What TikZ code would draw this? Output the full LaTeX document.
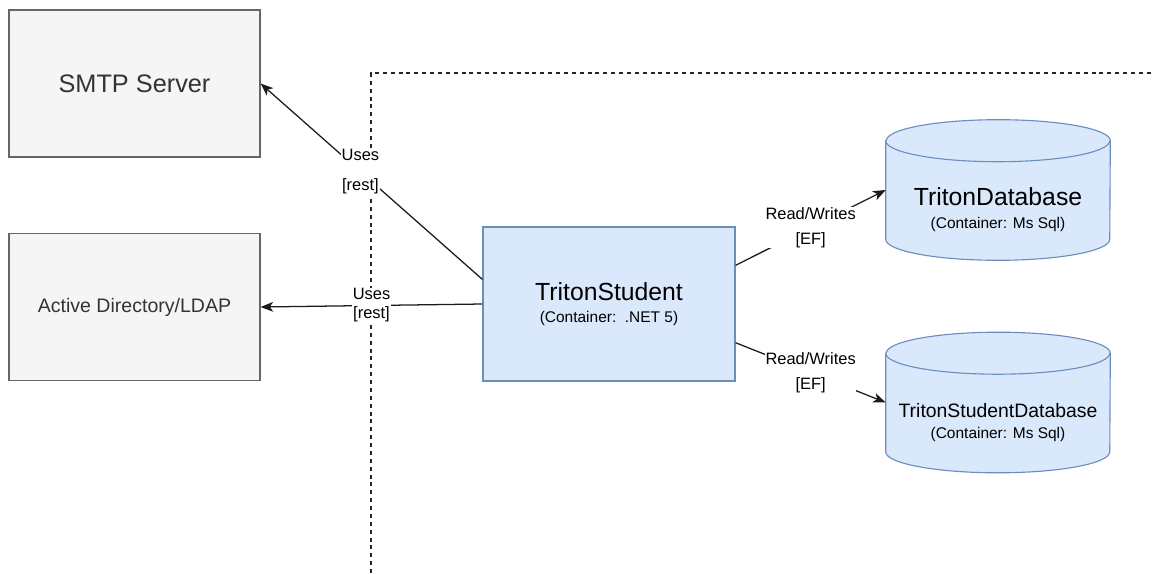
\documentclass[tikz,border=0pt]{standalone}
\usepackage{fontspec}
\setmainfont{Liberation Sans}
\usepackage{xcolor}
\definecolor{extfill}{HTML}{F5F5F5}
\definecolor{extline}{HTML}{666666}
\definecolor{exttext}{HTML}{333333}
\definecolor{ctrfill}{HTML}{DAE8FC}
\definecolor{ctrline}{HTML}{6C8EBF}
\definecolor{edgeline}{HTML}{1A1A1A}
\usepackage{tikz}
\usetikzlibrary{arrows.meta,calc}

% cylinder drawn round an empty node
\newcommand{\dbcyl}[1]{%
  \filldraw[dbbody] ($(#1.north west)+(0,21)$) -- ($(#1.south west)+(0,-21)$)
    arc[start angle=180,end angle=360,x radius=2.8cm,y radius=0.525cm]
    -- ($(#1.north east)+(0,21)$)
    arc[start angle=0,end angle=180,x radius=2.8cm,y radius=0.525cm] -- cycle;
  \draw[dbbody] ($(#1.north west)+(0,21)$)
    arc[start angle=180,end angle=360,x radius=2.8cm,y radius=0.525cm];
}

\begin{document}
\begin{tikzpicture}[x=0.025cm,y=-0.025cm,
  ext/.style={draw=extline, fill=extfill, line width=0.8pt, text=exttext,
              minimum width=6.275cm, minimum height=3.675cm},
  ctr/.style={draw=ctrline, fill=ctrfill, line width=0.8pt, align=center,
              minimum width=6.3cm, minimum height=3.85cm,
              font=\fontsize{11}{13}\selectfont},
  db/.style={minimum width=5.6cm, minimum height=3.5cm, inner sep=0pt},
  dbbody/.style={draw=ctrline, fill=ctrfill, line width=0.8pt},
  dbtxt/.style={align=center, inner sep=0pt, font=\fontsize{11}{13}\selectfont},
  lbl/.style={fill=white, inner sep=0.5pt, align=center,
              font=\fontsize{11.7}{13.5}\selectfont},
  arr/.style={draw=edgeline, line width=0.9pt,
              -{Stealth[length=9pt,width=7pt,inset=2.5pt]}},
  bnd/.style={draw=black!85, line width=0.9pt, dash pattern=on 2.8pt off 2.8pt}
]
  \useasboundingbox (0,0) rectangle (1154,573);

  % boundary
  \coordinate (bndlow)   at (371,573);
  \coordinate (bndright) at (1154,73);
  \draw[bnd] (bndlow) |- (bndright);

  \node[ext, font=\fontsize{18}{21}\selectfont]   (smtp) at (134.5,83.5) {SMTP Server};
  \node[ext, font=\fontsize{13.9}{16}\selectfont] (ldap) at (134.5,307)  {Active Directory/LDAP};

  \node[ctr] (ts) at (609,304)
    {{\fontsize{17.6}{21}\selectfont TritonStudent}\\[3pt](Container:\ \ .NET 5)};

  \node[db] (db1) at (998,190) {};
  \dbcyl{db1}
  \node[dbtxt] (db1txt) at ([yshift=-0.5cm]db1.center)
    {{\fontsize{17.6}{21}\selectfont TritonDatabase}\\[3.5pt](Container: Ms Sql)};

  \node[db] (db2) at (998,402.5) {};
  \dbcyl{db2}
  \node[dbtxt] (db2txt) at ([yshift=-0.5cm]db2.center)
    {{\fontsize{13.8}{16}\selectfont TritonStudentDatabase}\\[2.5pt](Container: Ms Sql)};

  \draw[arr] (ts.169) -- node[lbl,pos=0.55] {Uses\\[8pt]{[rest]}} (smtp.east);
  \draw[arr] (ts.west) -- node[lbl] {Uses\\{[rest]}} (ldap.east);
  \draw[arr] (ts.17)  -- node[lbl] {Read/Writes\\[4pt]{[EF]}} (db1.west);
  \draw[arr] (ts.-17) -- node[lbl] {Read/Writes\\[4pt]{[EF]}} (db2.west);

\end{tikzpicture}
\end{document}
